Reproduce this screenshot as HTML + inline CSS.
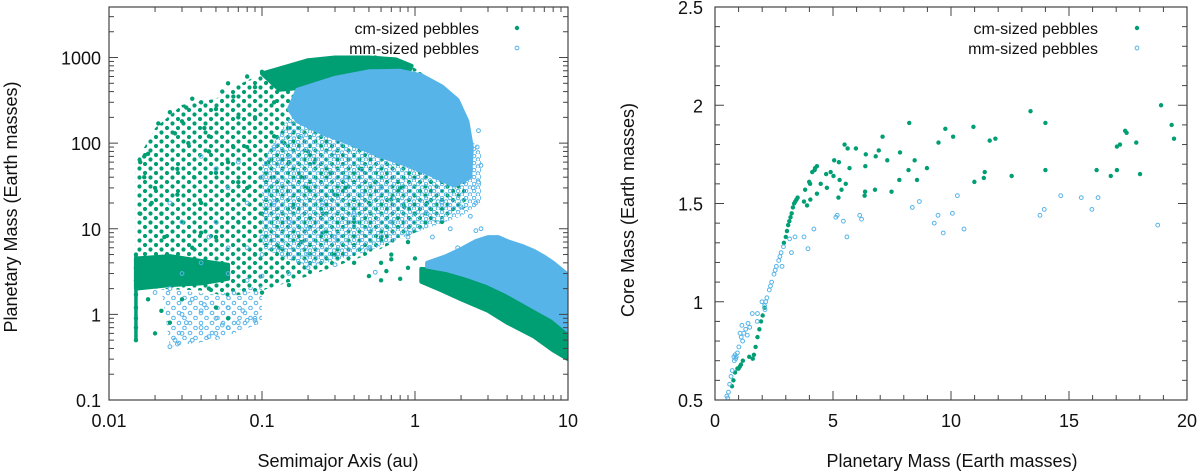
<!DOCTYPE html>
<html><head><meta charset="utf-8"><style>
body{margin:0;background:#fff;}
svg{display:block;font-family:"Liberation Sans","DejaVu Sans",sans-serif;}
</style></head><body>
<svg id="fig" width="1200" height="473" viewBox="0 0 1200 473">
<defs>
<pattern id="gpat" patternUnits="userSpaceOnUse" width="11" height="9">
<circle cx="2" cy="2" r="2.1" fill="#009e73"/><circle cx="7.5" cy="6.5" r="2.1" fill="#009e73"/>
</pattern>
<pattern id="bpat" patternUnits="userSpaceOnUse" width="8" height="7">
<circle cx="2" cy="2" r="1.8" fill="none" stroke="#56b4e9" stroke-width="1"/><circle cx="6" cy="5.5" r="1.8" fill="none" stroke="#56b4e9" stroke-width="1"/>
</pattern>
<pattern id="bpat2" patternUnits="userSpaceOnUse" width="11" height="10">
<circle cx="3" cy="3" r="1.8" fill="none" stroke="#56b4e9" stroke-width="1"/><circle cx="8.5" cy="8" r="1.8" fill="none" stroke="#56b4e9" stroke-width="1"/>
</pattern>
</defs>
<g id="left"></g>
<g id="right"></g>
</svg>
<script>
// ---------- LEFT PANEL DATA (semimajor axis au, planet mass Earth masses) ----------
const leftXTicks = [0.01, 0.1, 1, 10];
const leftXTickLabels = ["0.01", "0.1", "1", "10"];
const leftYTicks = [0.1, 1, 10, 100, 1000];
const leftYTickLabels = ["0.1", "1", "10", "100", "1000"];
const cmScatterEnvelope = [[0.015,5],[0.015,60],[0.02,150],[0.03,280],[0.05,330],[0.07,480],[0.1,650],[0.15,820],[0.3,1000],[0.6,1000],[0.9,850],[1.2,600],[1.8,300],[2.2,60],[2.2,18],[1.5,13],[1.0,9],[0.5,5],[0.2,2.8],[0.1,1.9],[0.06,1.6],[0.04,1.9],[0.02,2]];
const mmLowerLeft = [[0.022,2],[0.025,0.42],[0.05,0.5],[0.1,0.8],[0.1,2.2],[0.05,1.7]];
const mmMixedRegion = [[0.1,60],[0.15,200],[0.3,300],[1,220],[2,150],[2.7,80],[2.7,20],[2,14],[1,9],[0.5,5.5],[0.2,3.5],[0.1,6]];
const cmTopBand = [[0.1,650],[0.15,800],[0.2,930],[0.3,1000],[0.5,1000],[0.75,950],[0.95,800],[0.9,650],[0.5,650],[0.3,550],[0.2,450],[0.13,420]];
const mmGiantCloud = [[0.15,250],[0.17,420],[0.3,580],[0.5,690],[0.8,700],[1.1,620],[1.5,460],[1.9,320],[2.2,180],[2.35,90],[2.3,40],[1.8,32],[1.3,42],[0.9,55],[0.6,70],[0.4,95],[0.25,130],[0.17,180]];
const cmOuterBand = [[1.1,3.4],[1.5,3.3],[2,3.0],[3,2.6],[4,2.0],[6,1.5],[8,1.1],[10,0.9],[10,0.3],[8,0.38],[6,0.55],[4,0.8],[3,1.1],[2,1.5],[1.5,1.9],[1.1,2.4]];
const mmOuterCloud = [[1.2,4.0],[1.6,4.8],[2,5.8],[2.5,7.2],[3,8],[3.5,8],[4,7.2],[5,6.3],[6,5.5],[7,4.7],[8,4.0],[10,2.9],[10,0.65],[8,0.9],[6,1.2],[4,1.8],[3,2.3],[2.2,2.8],[1.6,3.3],[1.2,3.6]];
const cmInnerBand = [[0.015,4.5],[0.025,4.8],[0.04,4.2],[0.06,3.8],[0.06,2.6],[0.04,2.3],[0.025,2.2],[0.015,2]];
const cmVerticalA = [0.015,0.015,0.015,0.015,0.015,0.015,0.015,0.015];
const cmVerticalM = [0.5,0.7,0.9,1.2,1.7,2.5,3.5,5];
const cmSparse = [[0.016,60],[0.017,70],[0.018,75],[0.017,40],[0.02,30],[0.016,15],[0.019,20],[0.021,170],[0.022,15],[0.023,8],[0.025,230],[0.027,130],[0.028,50],[0.03,180],[0.032,260],[0.033,100],[0.035,330],[0.036,40],[0.04,300],[0.042,150],[0.045,80],[0.05,250],[0.055,400],[0.06,500],[0.065,350],[0.07,200],[0.08,600],[0.09,450],[0.1,680],[0.12,300],[0.03,12],[0.04,20],[0.05,8],[0.06,25],[0.07,12],[0.08,30],[0.1,15],[0.12,40],[0.15,60],[0.2,30],[0.25,15],[0.3,25],[0.4,12],[0.5,20],[0.6,8],[0.8,30],[1.0,15],[1.5,12],[0.05,45],[0.15,150],[0.2,80],[0.3,170],[0.25,250],[0.12,120],[0.08,90],[0.06,60],[0.09,5],[0.13,6],[0.18,7],[0.035,6],[0.045,2],[0.03,1.5],[0.05,1.2],[0.022,1.1],[0.02,0.6],[0.025,0.8],[0.06,0.9],[0.018,1.5],[0.7,5],[0.6,2.5],[0.5,2.8],[0.6,4],[0.9,7],[0.3,5],[0.4,4],[0.045,120],[0.065,90],[0.09,200],[0.11,60],[0.14,100],[0.18,40],[0.22,60],[0.28,45],[0.35,30],[0.45,50],[0.55,35],[0.7,22],[0.85,18],[1.2,20],[0.25,9],[0.16,18],[0.11,28],[0.07,35],[0.04,9],[0.028,25],[0.02,3],[0.025,2.5],[0.1,1.8],[0.15,2.2],[0.55,1000],[0.6,900],[0.75,880],[0.65,3.2],[0.8,2.6],[0.9,3.5],[1.0,4.5],[0.7,4.4]];
const mmSparse = [[0.025,0.42],[0.027,0.5],[0.03,0.6],[0.035,0.5],[0.04,0.7],[0.045,0.55],[0.05,0.6],[0.06,0.7],[0.07,0.8],[0.08,0.85],[0.09,0.9],[0.03,1.0],[0.04,1.1],[0.05,0.9],[0.06,1.2],[0.035,1.5],[0.025,2],[0.03,3],[0.04,4],[0.06,3],[0.08,2.5],[0.1,2.8],[0.15,3],[0.2,3.5],[0.3,3.8],[0.05,12],[0.03,12],[0.04,70],[0.05,50],[0.06,30],[0.07,60],[0.08,20],[0.1,40],[0.12,20],[0.15,12],[0.2,10],[0.25,20],[0.3,8],[0.4,15],[0.5,10],[0.7,12],[0.9,9],[1.2,15],[1.5,20],[2,18],[2.3,14],[2.5,20],[2.6,140],[2.7,55],[2.6,35],[1.9,6],[0.12,90],[0.15,70],[0.1,8],[0.08,6],[0.06,6],[0.2,5],[0.5,6],[0.9,8],[0.025,20],[0.045,8],[0.6,30],[0.35,40],[0.45,25],[1.3,8],[1.7,10],[0.028,0.45],[0.032,0.8],[0.055,0.75],[0.075,1.1],[0.09,0.85],[0.042,1.3],[0.1,5],[0.13,60],[0.18,120],[0.25,150],[0.3,70],[0.4,110],[0.6,150],[0.8,90],[1.0,80],[2.7,10],[2.4,30],[2.55,90],[0.02,1.8],[2.5,9.5],[0.55,3.1]];

// ---------- RIGHT PANEL DATA (planet mass, core mass) ----------
const rightXTicks = [0, 5, 10, 15, 20];
const rightXTickLabels = ["0", "5", "10", "15", "20"];
const rightYTicks = [0.5, 1, 1.5, 2, 2.5];
const rightYTickLabels = ["0.5", "1", "1.5", "2", "2.5"];
const cmPlanetMass = [18.9,19.35,19.45,13.37,14.0,8.23,9.76,10.95,10.09,9.47,11.64,11.88,7.1,5.49,5.62,5.97,6.94,6.39,6.81,7.84,7.3,8.46,5.05,5.25,6.37,5.7,8.2,8.98,11.43,11.39,10.99,12.57,14.0,16.17,16.77,17.03,17.03,17.16,17.38,17.44,17.85,18.01,4.9,5.02,4.71,5.28,5.54,5.36,5.23,4.48,4.74,4.32,4.32,4.22,4.12,4.24,3.99,4.03,4.04,3.82,3.77,3.9,6.34,6.78,6.36,7.48,7.81,8.56,
 0.72,0.78,0.85,0.95,1.0,1.05,1.1,1.18,1.45,1.6,1.65,1.72,1.8,1.88,1.95,2.02,2.1,2.92,3.0,3.05,3.1,3.15,3.2,3.25,3.3,3.35,3.4,3.45,3.5];
const cmCoreMass = [2.0,1.90,1.83,1.97,1.91,1.91,1.88,1.89,1.84,1.81,1.82,1.83,1.84,1.80,1.78,1.78,1.77,1.75,1.74,1.76,1.72,1.72,1.72,1.71,1.69,1.68,1.67,1.68,1.66,1.63,1.61,1.64,1.67,1.67,1.64,1.67,1.79,1.80,1.87,1.86,1.81,1.65,1.66,1.64,1.65,1.62,1.60,1.57,1.53,1.60,1.58,1.55,1.69,1.67,1.66,1.68,1.61,1.60,1.52,1.57,1.51,1.49,1.54,1.57,1.56,1.56,1.62,1.62,
 0.57,0.60,0.64,0.66,0.66,0.67,0.68,0.70,0.72,0.71,0.73,0.77,0.82,0.86,0.90,0.93,0.97,1.30,1.33,1.36,1.39,1.41,1.43,1.45,1.48,1.50,1.51,1.52,1.53];
const mmPlanetMass = [18.76,14.65,15.52,16.23,15.97,13.77,13.95,10.27,10.06,10.55,9.67,9.45,9.29,8.36,8.66,5.12,5.18,5.44,5.59,6.13,6.21,4.19,3.94,3.77,3.39,3.16,3.24,2.84,1.79,1.8,1.58,1.99,2.12,1.14,1.30,1.22,1.11,1.01,0.90,0.95,0.82,0.73,0.68,0.62,0.57,1.40,1.17,1.06,1.37,1.47,0.54,0.5,0.8,0.85,0.88,
 2.1,2.2,2.3,2.4,2.5,2.6,2.7,2.8,2.9,2.15,2.35,2.55,2.75];
const mmCoreMass = [1.39,1.54,1.53,1.53,1.47,1.44,1.47,1.54,1.45,1.37,1.35,1.44,1.40,1.48,1.51,1.43,1.44,1.41,1.33,1.44,1.42,1.37,1.27,1.33,1.33,1.32,1.25,1.18,0.90,0.94,0.94,1.0,0.96,0.88,0.86,0.84,0.82,0.77,0.72,0.74,0.70,0.65,0.62,0.58,0.54,0.89,0.80,0.84,0.83,0.87,0.51,0.52,0.72,0.73,0.71,
 0.98,1.02,1.06,1.10,1.14,1.18,1.21,1.25,1.28,1.00,1.08,1.16,1.23];

const NS = "http://www.w3.org/2000/svg";
const GREEN = "#009e73", BLUE = "#56b4e9";
function mk(parent, tag, attrs){const e=document.createElementNS(NS,tag);for(const k in attrs)e.setAttribute(k,attrs[k]);parent.appendChild(e);return e;}

const L = {x0:109,x1:568,y0:7,y1:400};
const lx = a => L.x0 + (Math.log10(a)+2)/3*(L.x1-L.x0);
const ly = m => L.y1 - (Math.log10(m)+1)/(4.59)*(L.y1-L.y0);
const R = {x0:715,x1:1187,y0:7,y1:400};
const rx = m => R.x0 + m/20*(R.x1-R.x0);
const ry = c => R.y1 - (c-0.5)/2*(R.y1-R.y0);

function drawFrame(g, B){
  const f = mk(g,'rect',{x:B.x0,y:B.y0,width:B.x1-B.x0,height:B.y1-B.y0,fill:'none',stroke:'#444','stroke-width':1.2});
  
  
}
function tick(g,x1,y1,x2,y2){const t=mk(g,'line',{x1,y1,x2,y2,stroke:'#444','stroke-width':1});
  
  }
function label(g,x,y,txt,anchor,size,name){const t=mk(g,'text',{x,y,'text-anchor':anchor,'font-size':size,fill:'#111'});t.textContent=txt;
  
  return t;}

const gl = document.getElementById('left');
const clip = mk(gl,'clipPath',{id:'lclip'});
mk(clip,'rect',{x:L.x0,y:L.y0,width:L.x1-L.x0,height:L.y1-L.y0});
const gc = mk(gl,'g',{'clip-path':'url(#lclip)'});


function poly(g, pts, fill, strokeCol, name){
  const d = pts.map((p,i)=>(i?'L':'M')+lx(p[0]).toFixed(1)+','+ly(p[1]).toFixed(1)).join(' ')+'Z';
  const p = mk(g,'path',{d,fill:fill,stroke:strokeCol||'none','stroke-width':4,'stroke-linejoin':'round'});
  
  
}
function gdot(g,x,y){const c=mk(g,'circle',{cx:x,cy:y,r:2.2,fill:GREEN});
  
  }
function bdot(g,x,y){const c=mk(g,'circle',{cx:x,cy:y,r:1.9,fill:'none',stroke:BLUE,'stroke-width':1});
  
  }

poly(gc, cmScatterEnvelope, 'url(#gpat)', null, 'cm-scatter-region');
poly(gc, mmLowerLeft, 'url(#bpat2)', null, 'mm-lower-left-region');
poly(gc, cmInnerBand, GREEN, GREEN, 'cm-inner-band');
cmSparse.forEach(p=>gdot(gc,lx(p[0]),ly(p[1])));
poly(gc, cmTopBand, GREEN, GREEN, 'cm-top-band');
poly(gc, cmOuterBand, GREEN, GREEN, 'cm-outer-band');
poly(gc, mmMixedRegion, 'url(#bpat)', null, 'mm-mixed-region');
mmSparse.forEach(p=>bdot(gc,lx(p[0]),ly(p[1])));
poly(gc, mmGiantCloud, BLUE, BLUE, 'mm-giant-cloud');
poly(gc, mmOuterCloud, BLUE, BLUE, 'mm-outer-cloud');
{const vl = mk(gc,'line',{x1:lx(cmVerticalA[0]),x2:lx(cmVerticalA[cmVerticalA.length-1]),y1:ly(Math.min(...cmVerticalM)),y2:ly(Math.max(...cmVerticalM)),stroke:GREEN,'stroke-width':3.5});
 
 }
cmVerticalA.forEach((a,i)=>gdot(gc,lx(a),ly(cmVerticalM[i])));

drawFrame(gl,L);
for(let d=-2; d<1; d++){for(let k=1;k<10;k++){const x=lx(k*Math.pow(10,d));const len=k===1?9:5;tick(gl,x,L.y1,x,L.y1-len);tick(gl,x,L.y0,x,L.y0+len);}}
for(let d=-1; d<4; d++){for(let k=1;k<10;k++){const v=k*Math.pow(10,d);if(Math.log10(v)>3.59)break;const y=ly(v);const len=k===1?9:5;tick(gl,L.x0,y,L.x0+len,y);tick(gl,L.x1,y,L.x1-len,y);}}
leftXTicks.forEach((v,i)=>label(gl,lx(v),427,leftXTickLabels[i],'middle',18,'x-tick-label'));
leftYTicks.forEach((v,i)=>label(gl,L.x0-8,ly(v)+7,leftYTickLabels[i],'end',18,'y-tick-label'));
label(gl,338,467,'Semimajor Axis (au)','middle',18,'x-axis-title');
{const t=label(gl,0,0,'Planetary Mass (Earth masses)','middle',18,'y-axis-title');t.setAttribute('transform','translate(17,207) rotate(-90)');}
label(gl,479,34,'cm-sized pebbles','end',16,'legend-cm-label');
label(gl,479,54,'mm-sized pebbles','end',16,'legend-mm-label');
gdot(gl,517,28); bdot(gl,517,48);

const gr = document.getElementById('right');
cmPlanetMass.forEach((m,i)=>gdot(gr,rx(m),ry(cmCoreMass[i])));
mmPlanetMass.forEach((m,i)=>bdot(gr,rx(m),ry(mmCoreMass[i])));
drawFrame(gr,R);
for(let v=0; v<=20; v+=1){const x=rx(v);const len=v%5===0?9:5;tick(gr,x,R.y1,x,R.y1-len);tick(gr,x,R.y0,x,R.y0+len);}
for(let v=0.5; v<=2.5001; v+=0.1){const y=ry(v);const major=Math.abs(v*2-Math.round(v*2))<1e-6;const len=major?9:5;tick(gr,R.x0,y,R.x0+len,y);tick(gr,R.x1,y,R.x1-len,y);}
rightXTicks.forEach((v,i)=>label(gr,rx(v),427,rightXTickLabels[i],'middle',18,'x-tick-label'));
rightYTicks.forEach((v,i)=>label(gr,R.x0-12,ry(v)+7,rightYTickLabels[i],'end',18,'y-tick-label'));
label(gr,952,467,'Planetary Mass (Earth masses)','middle',18,'x-axis-title');
{const t=label(gr,0,0,'Core Mass (Earth masses)','middle',18,'y-axis-title');t.setAttribute('transform','translate(634,210) rotate(-90)');}
label(gr,1098,34,'cm-sized pebbles','end',16,'legend-cm-label');
label(gr,1098,54,'mm-sized pebbles','end',16,'legend-mm-label');
gdot(gr,1137,28); bdot(gr,1137,48);
</script>
</body></html>
